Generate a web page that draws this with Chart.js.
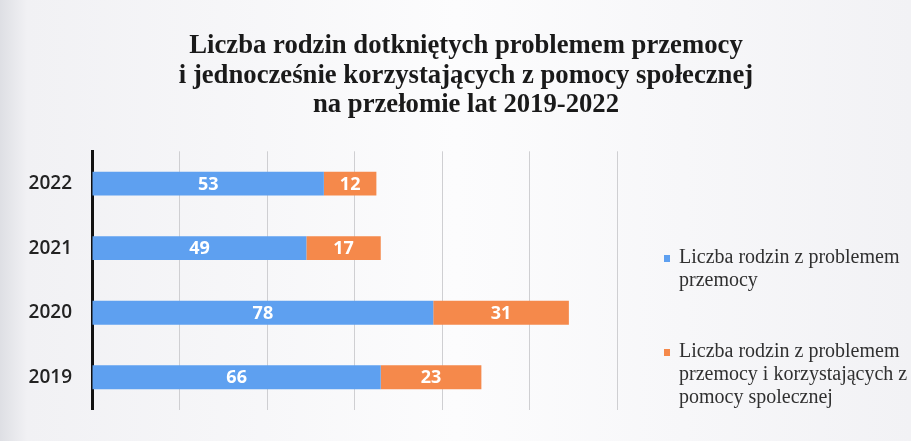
<!DOCTYPE html>
<html>
<head>
<meta charset="utf-8">
<script src="https://cdn.jsdelivr.net/npm/chart.js@4"></script>
<style>
  body { margin: 0; background: #f6f6f8; overflow: hidden; }
  canvas { display: block; }
</style>
</head>
<body>
<canvas id="chart" width="911" height="441"></canvas>
<script>
const years = ['2022', '2021', '2020', '2019'];
const violenceFamilies = [53, 49, 78, 66];
const violenceAndAidFamilies = [12, 17, 31, 23];
const seriesNames = [
    ['Liczba rodzin z problemem', 'przemocy'],
    ['Liczba rodzin z problemem', 'przemocy i korzystających z', 'pomocy spolecznej']
];
const titleLines = [
    'Liczba rodzin dotkniętych problemem przemocy',
    'i jednocześnie korzystających z pomocy społecznej',
    'na przełomie lat 2019-2022'
];

const blue = '#5ea0f0';
const orange = '#f5894b';

// scanned page tint
const paper = {
    id: 'paper',
    beforeDraw(chart) {
        const ctx = chart.ctx;
        const g = ctx.createLinearGradient(0, 0, chart.width, 0);
        g.addColorStop(0, '#dedfe4');
        g.addColorStop(0.03, '#f1f1f4');
        g.addColorStop(0.5, '#fcfcfd');
        g.addColorStop(1, '#f2f2f5');
        ctx.save();
        ctx.fillStyle = g;
        ctx.fillRect(0, 0, chart.width, chart.height);
        ctx.restore();
    }
};

// title sits over the whole picture, not only over the plot
const wideTitle = {
    id: 'wideTitle',
    afterLayout(chart) {
        if (chart.titleBlock) {
            chart.titleBlock.left = 21;
            chart.titleBlock.right = chart.width;
        }
    }
};

// numbers inside bars
const barValues = {
    id: 'barValues',
    afterDatasetsDraw(chart) {
        const ctx = chart.ctx;
        ctx.save();
        ctx.fillStyle = '#ffffff';
        ctx.font = 'bold 18px "Open Sans", sans-serif';
        ctx.textAlign = 'center';
        ctx.textBaseline = 'middle';
        chart.data.datasets.forEach((ds, i) => {
            chart.getDatasetMeta(i).data.forEach((bar, j) => {
                const mid = (bar.x + bar.base) / 2;
                ctx.fillText(ds.data[j], mid, bar.y + 1);
            });
        });
        ctx.restore();
    }
};

// multi-line legend at the right
const sideLegend = {
    id: 'sideLegend',
    afterDraw(chart) {
        const ctx = chart.ctx;
        const left = chart.chartArea.right + 47;
        const tops = [258, 352];
        ctx.save();
        ctx.font = '20px "Liberation Serif", serif';
        ctx.textBaseline = 'middle';
        chart.data.datasets.forEach((ds, i) => {
            ctx.fillStyle = ds.backgroundColor;
            ctx.fillRect(left, tops[i] - 3, 6, 7);
            ctx.fillStyle = '#303030';
            seriesNames[i].forEach((line, k) => {
                ctx.fillText(line, left + 15, tops[i] + k * 23);
            });
        });
        ctx.restore();
    }
};

new Chart(document.getElementById('chart'), {
    type: 'bar',
    data: {
        labels: years,
        datasets: [
            {
                label: seriesNames[0].join(' '),
                data: violenceFamilies,
                backgroundColor: blue,
                barPercentage: 0.37,
                categoryPercentage: 1
            },
            {
                label: seriesNames[1].join(' '),
                data: violenceAndAidFamilies,
                backgroundColor: orange,
                barPercentage: 0.37,
                categoryPercentage: 1
            }
        ]
    },
    options: {
        indexAxis: 'y',
        responsive: false,
        animation: false,
        layout: {padding: {left: 10, right: 294, bottom: 20, top: 10}},
        plugins: {
            legend: {display: false},
            tooltip: {enabled: false},
            title: {
                display: true,
                text: titleLines,
                color: '#1a1a1a',
                font: {family: '"Liberation Serif", serif', weight: 'bold', size: 26.7, lineHeight: 1.09},
                padding: {top: 22, bottom: 32}
            }
        },
        scales: {
            x: {
                stacked: true,
                min: 0,
                max: 120,
                afterFit: s => { s.height = 0; },
                ticks: {display: false, stepSize: 20},
                grid: {color: '#cfcfd2', lineWidth: 1, drawTicks: false},
                border: {display: false}
            },
            y: {
                stacked: true,
                afterFit: s => { s.width = 82; },
                ticks: {
                    color: '#222',
                    padding: 20,
                    font: {family: '"Open Sans", sans-serif', size: 19, weight: '600'}
                },
                grid: {display: false, drawTicks: false},
                border: {color: '#111', width: 3}
            }
        }
    },
    plugins: [paper, wideTitle, barValues, sideLegend]
});
</script>
</body>
</html>
